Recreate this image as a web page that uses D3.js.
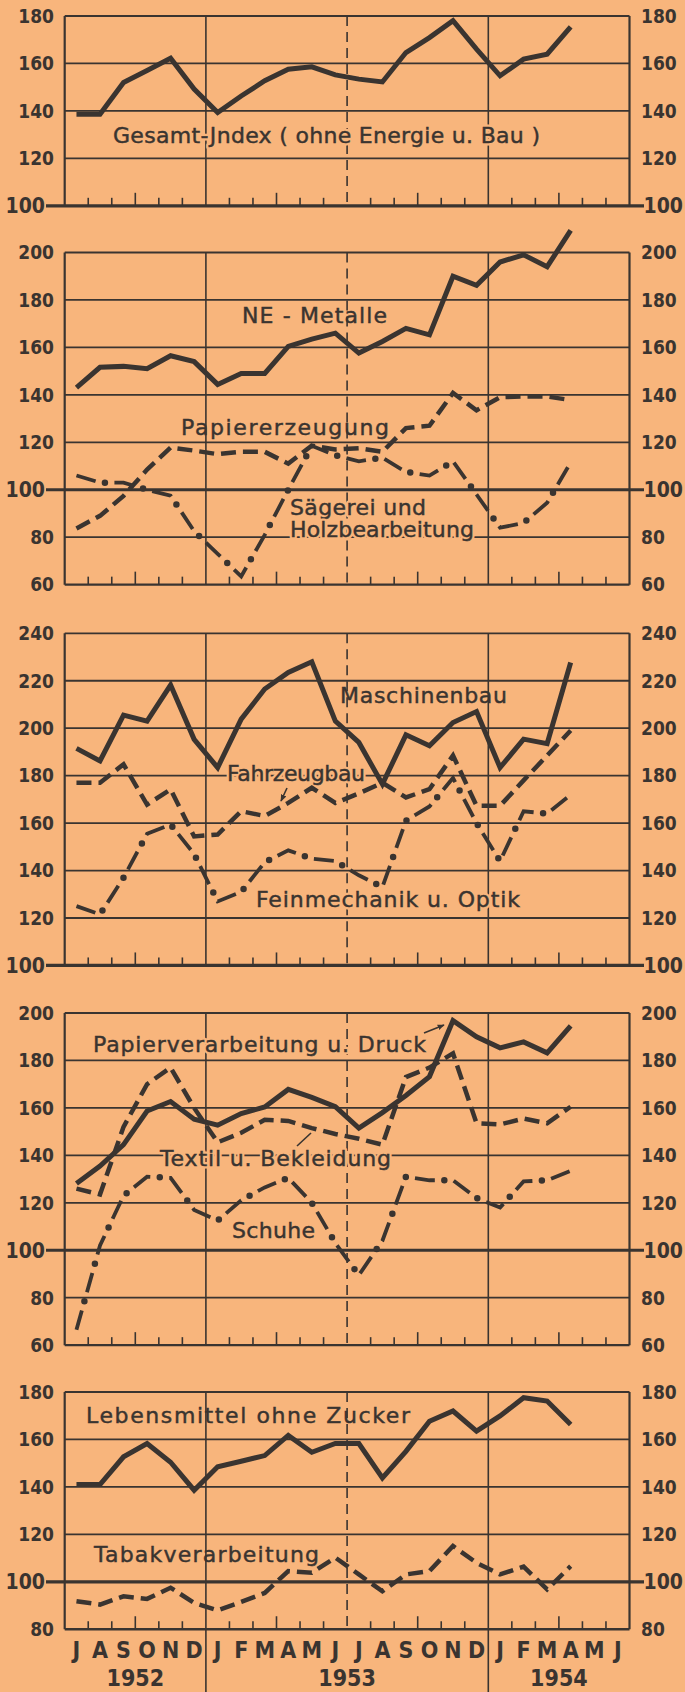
<!DOCTYPE html>
<html><head><meta charset="utf-8">
<script src="https://cdn.jsdelivr.net/npm/d3@7"></script>
<style>
html,body{margin:0;padding:0;background:#f8b57c;}
svg{display:block;}
</style></head><body>
<svg id="chart" width="685" height="1692"></svg>
<script>
// ---------- data ----------
const monthLabels = ["J","A","S","O","N","D","J","F","M","A","M","J","J","A","S","O","N","D","J","F","M","A","M","J"];
const yearLabels = ["1952","1953","1954"];

const ticksP1 = [100,120,140,160,180];
const ticksP2 = [60,80,100,120,140,160,180,200];
const ticksP3 = [100,120,140,160,180,200,220,240];
const ticksP4 = [60,80,100,120,140,160,180,200];
const ticksP5 = [80,100,120,140,160,180];

const gesamtIndex = [138.6,138.6,152,157,162.2,149.2,139.3,146.3,152.7,157.6,158.6,155.2,153.4,152.2,164.6,170.9,178,166,154.8,161.8,163.9,175.4];

const neMetalle = [143,151.6,152,151,156.5,154,144.4,149,149,160.4,163.5,166,157.6,162.5,168,165.3,190,186.2,196,199,194,209.3];
const papiererzeugung = [83.7,89,97.4,108.5,117.8,116.5,115,116,116,111,118.6,117,117.5,116,126,127,140.8,133.5,139,139.3,139.3,137.8];
const saegerei = [106,103,103,100,97.5,82.5,73,63.5,81,100,118.5,114.5,112,113.5,107.5,106,112,98,84,86,94.5,111.5];

const maschinenbau = [191.5,186.2,205.5,203,218.2,195.3,183.4,203.8,216.5,223.5,228,203,194,176.4,197.2,192.6,202.4,207,183.4,195.4,193.5,227.7];
const fahrzeugbau = [177,177,184.8,167.8,174.2,154.4,155.2,165,163,168.5,174.9,168.5,172.5,177,170.8,174.3,188.5,167.3,167.3,178,188.5,199];
const feinmechanik = [125,121.5,137,155.5,159.4,147,127,131,143.5,148.5,145,144,138,133,161,167,179,160,144,165,164,172];

const papierverarbeitung = [128.1,135.5,144.5,158.7,162.7,155.2,152.7,157.6,160.4,167.8,164.4,160.5,151.5,158,165.2,173.2,196.8,190,185.3,187.8,183.2,194.6];
const textil = [126,123.5,152,170,177,160,145.5,149.5,155,154.5,151.5,149,147,144.5,173,177,183,153.5,153,155.5,153.5,160.5];
const schuhe = [66.5,102,123,131,130.5,117,112.5,121,126.5,130.5,120,103,89.5,104,131,129.5,129.5,122,118,129,129.5,133.5];

const lebensmittel = [141,141,152.7,158.3,150.4,138.6,148.5,150.8,153.2,161.7,154.6,158.3,158.3,143.8,155,167.7,172,163.5,169.9,177.6,176.2,166.3];
const tabak = [91.8,90.4,93.9,92.8,97.5,91.1,88,91.5,95.3,104.5,103.8,110.2,103.1,96,103.1,104.5,115.1,108,103.1,106.4,96.8,106.6];

// ---------- layout ----------
const INK = "#3a3430", BG = "#f8b57c";
const svg = d3.select("#chart");
svg.append("rect").attr("width",685).attr("height",1692).attr("fill",BG);

const x = d3.scaleLinear().domain([0,24]).range([64.7,629.5]);
const U = 47.45; // px per 20 index points

const panels = [
  {top:16,    ticks:ticksP1, series:[{v:gesamtIndex,s:"solid"}],
   labels:[{t:"Gesamt-Jndex ( ohne Energie u. Bau )",x:113,y:143,w:427,halo:true}]},
  {top:252.5, ticks:ticksP2, series:[{v:papiererzeugung,s:"dash"},{v:saegerei,s:"dashdot"},{v:neMetalle,s:"solid"}],
   labels:[{t:"NE - Metalle",x:242,y:323,w:145},{t:"Papiererzeugung",x:181,y:435,w:208},
           {t:"Sägerei und",x:290,y:515,w:136,halo:true},{t:"Holzbearbeitung",x:290,y:537,w:184,halo:true}]},
  {top:633.3, ticks:ticksP3, series:[{v:feinmechanik,s:"dashdot"},{v:fahrzeugbau,s:"dash"},{v:maschinenbau,s:"solid"}],
   labels:[{t:"Maschinenbau",x:340,y:703,w:167},{t:"Fahrzeugbau",x:227,y:781,w:138,halo:true},
           {t:"Feinmechanik u. Optik",x:256,y:907,w:264,halo:true}],
   arrows:[[287,788,281,801,true]]},
  {top:1013,  ticks:ticksP4, series:[{v:schuhe,s:"dashdot"},{v:textil,s:"dash"},{v:papierverarbeitung,s:"solid"}],
   labels:[{t:"Papierverarbeitung u. Druck",x:93,y:1052,w:333,halo:true},{t:"Textil u. Bekleidung",x:160,y:1166,w:231,halo:true},
           {t:"Schuhe",x:232,y:1238,w:83,halo:true}],
   arrows:[[424,1033,444,1025,true],[297,1146,311,1133,false]]},
  {top:1392,  ticks:ticksP5, series:[{v:tabak,s:"dash"},{v:lebensmittel,s:"solid"}],
   labels:[{t:"Lebensmittel ohne Zucker",x:86,y:1423,w:324},{t:"Tabakverarbeitung",x:94,y:1562,w:225}]}
];

svg.append("defs").append("marker").attr("id","ah").attr("viewBox","0 0 10 10")
  .attr("refX",9).attr("refY",5).attr("markerWidth",7).attr("markerHeight",7)
  .attr("orient","auto").attr("markerUnits","userSpaceOnUse")
  .append("path").attr("d","M0,1 L10,5 L0,9 Z").attr("fill",INK);

const X0 = x(0), X1 = x(24);

panels.forEach((p,pi)=>{
  const lo = p.ticks[0], hi = p.ticks[p.ticks.length-1];
  const bottom = p.top + (hi-lo)/20*U;
  const y = d3.scaleLinear().domain([lo,hi]).range([bottom,p.top]);
  const g = svg.append("g");

  // grid lines
  p.ticks.forEach(t=>{
    if (t===100) return;
    g.append("line").attr("x1",X0).attr("x2",X1).attr("y1",y(t)).attr("y2",y(t))
      .attr("stroke",INK).attr("stroke-width", t===lo ? 2.3 : 1.8);
  });
  // frame sides
  [X0,X1].forEach(xx=>g.append("line").attr("x1",xx).attr("x2",xx).attr("y1",p.top).attr("y2",bottom)
      .attr("stroke",INK).attr("stroke-width",2.2));
  // year separators
  [6,18].forEach(k=>g.append("line").attr("x1",x(k)).attr("x2",x(k)).attr("y1",p.top)
      .attr("y2", pi===4 ? 1692 : bottom).attr("stroke",INK).attr("stroke-width",1.6));
  g.append("line").attr("x1",x(12)).attr("x2",x(12)).attr("y1",p.top).attr("y2",bottom)
      .attr("stroke",INK).attr("stroke-width",1.6).attr("stroke-dasharray","10 6");
  // month ticks
  d3.range(1,24).filter(k=>k%6!==0).forEach(k=>{
    g.append("line").attr("x1",x(k)).attr("x2",x(k)).attr("y1",bottom).attr("y2",bottom-(k%6===3?13:8))
      .attr("stroke",INK).attr("stroke-width",1.6);
  });
  // 100 line
  if (lo<=100 && hi>=100) {
    g.append("line").attr("x1",46).attr("x2",644).attr("y1",y(100)).attr("y2",y(100))
      .attr("stroke",INK).attr("stroke-width",3.2);
  }
  // tick labels
  p.ticks.forEach(t=>{
    const big = t===100;
    g.append("text").attr("x", big?45:54).attr("y",y(t)).attr("dy","0.36em")
      .attr("text-anchor","end").attr("font-family","DejaVu Sans Condensed").attr("font-weight","bold")
      .attr("font-size", big?21:19).attr("fill",INK).text(t);
    g.append("text").attr("x", big?643.5:641).attr("y",y(t)).attr("dy","0.36em")
      .attr("text-anchor","start").attr("font-family","DejaVu Sans Condensed").attr("font-weight","bold")
      .attr("font-size", big?21:19).attr("fill",INK).text(t);
  });
  // labels (optional knockout halo underneath, then ink text slightly emboldened)
  p.labels.forEach(l=>{
    if (l.halo) {
      g.append("text").attr("x",l.x).attr("y",l.y).attr("font-family","DejaVu Sans")
        .attr("font-size",22).attr("fill",BG).attr("stroke",BG).attr("stroke-width",5)
        .attr("stroke-linejoin","round").attr("textLength",l.w).attr("lengthAdjust","spacing")
        .attr("aria-hidden","true").text(l.t);
    }
    g.append("text").attr("x",l.x).attr("y",l.y).attr("font-family","DejaVu Sans")
      .attr("font-size",22).attr("fill",INK).attr("stroke",INK).attr("stroke-width",0.45)
      .attr("textLength",l.w).attr("lengthAdjust","spacing").text(l.t);
  });
  (p.arrows||[]).forEach(a=>{
    const ln = g.append("line").attr("x1",a[0]).attr("y1",a[1]).attr("x2",a[2]).attr("y2",a[3])
      .attr("stroke",INK).attr("stroke-width",1.6);
    if (a[4]) ln.attr("marker-end","url(#ah)");
  });

  // series
  const line = d3.line().x((d,i)=>x(i+0.5)).y(d=>y(d));
  p.series.forEach(s=>{
    if (s.s==="solid") {
      g.append("path").attr("d",line(s.v)).attr("fill","none").attr("stroke",INK)
        .attr("stroke-width",5).attr("stroke-linejoin","miter").attr("stroke-miterlimit",6);
    } else if (s.s==="dash") {
      g.append("path").attr("d",line(s.v)).attr("fill","none").attr("stroke",INK)
        .attr("stroke-width",4.5).attr("stroke-dasharray","15 7").attr("stroke-linejoin","miter");
    } else {
      g.append("path").attr("d",line(s.v)).attr("fill","none").attr("stroke",INK)
        .attr("stroke-width",3.8).attr("stroke-dasharray","20 19");
      g.append("path").attr("d",line(s.v)).attr("fill","none").attr("stroke",INK)
        .attr("stroke-width",6.5).attr("stroke-linecap","round").attr("stroke-dasharray","0 39")
        .attr("stroke-dashoffset",9.5);
    }
  });

  // bottom month / year labels
  if (pi===4) {
    monthLabels.forEach((m,i)=>{
      g.append("text").attr("x",x(i+0.5)).attr("y",1658).attr("text-anchor","middle")
        .attr("font-family","DejaVu Sans Condensed").attr("font-weight","bold").attr("font-size",23)
        .attr("fill",INK).text(m);
    });
    [3,12,21].forEach((c,i)=>{
      g.append("text").attr("x",x(c)).attr("y",1686).attr("text-anchor","middle")
        .attr("font-family","DejaVu Sans Condensed").attr("font-weight","bold").attr("font-size",23)
        .attr("fill",INK).text(yearLabels[i]);
    });
  }
});
</script>
</body></html>
